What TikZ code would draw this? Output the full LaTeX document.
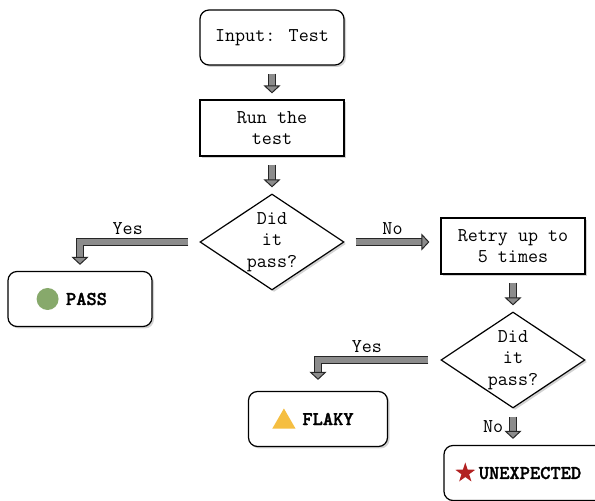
\documentclass[tikz,border=0pt]{standalone}
\usepackage{fontspec}
\newfontface\endfont{lmmonolt10-bold.otf}[FakeBold=1.6]
\usetikzlibrary{positioning,shapes.geometric,shadows,arrows.meta}

\definecolor{passgreen}{HTML}{87A96B}
\definecolor{flakyyellow}{HTML}{F5BE41}
\definecolor{unexpred}{HTML}{B22222}
\definecolor{arrowgray}{HTML}{8C8C8C}

\tikzset{
  flowtext/.style={font=\ttfamily\fontsize{19.5}{21.5}\selectfont, align=center},
  boxshadow/.style={drop shadow={shadow xshift=2pt, shadow yshift=-2pt, opacity=0.35}},
  startbox/.style={flowtext, draw, line width=1.2pt, rounded corners=9pt,
    minimum width=144pt, minimum height=55pt, fill=white, boxshadow},
  procbox/.style={flowtext, draw, line width=1.2pt,
    minimum width=144pt, minimum height=56pt, fill=white, boxshadow},
  decision/.style={flowtext, draw, line width=1.2pt, diamond, aspect=1.5, inner sep=0pt,
    minimum width=144pt, minimum height=96pt, fill=white, boxshadow},
  endbox/.style={startbox, font=\endfont\fontsize{19.5}{21.5}\selectfont},
  fatarrow/.style={draw=black!85, line width=1pt, double=arrowgray, double distance=6pt,
    shorten <=8pt, shorten >=6pt,
    -{Triangle[length=8pt, width=17pt, line width=1pt, fill=arrowgray]}},
  edgetext/.style={flowtext}
}

\begin{document}
\begin{tikzpicture}[on grid, x=1pt, y=1pt]
  \useasboundingbox (0,0) rectangle (595,501);

  % main line
  \node[startbox] (input) at (272,463.5) {Input: Test};
  \node[procbox, below=90.5pt of input] (run) {Run the\\test};
  \node[decision, below=114pt of run] (did1) {Did\\it\\pass?};
  \node[endbox, below left=57pt and 192pt of did1] (pass) {\hspace*{13pt}PASS};
  \node[procbox, below right=4pt and 241pt of did1] (retry) {Retry up to\\5 times};
  \node[decision, below=114pt of retry] (did2) {Did\\it\\pass?};
  \node[endbox, minimum width=139pt, below left=59pt and 195pt of did2] (flaky) {\hspace*{20pt}FLAKY};
  \node[endbox, minimum width=164pt, below=113pt of did2, xshift=13pt] (unexp) {\hspace*{8pt}UNEXPECTED};

  % marks
  \node[circle, fill=passgreen, minimum size=22pt, inner sep=0pt, right=29pt of pass.west] (passmark) {};
  \node[regular polygon, regular polygon sides=3, fill=flakyyellow, minimum size=27pt, inner sep=0pt,
    right=28pt of flaky.west, yshift=-3pt] (flakymark) {};
  \node[star, star points=5, star point ratio=2.6, fill=unexpred, minimum size=21pt, inner sep=0pt,
    right=16pt of unexp.west] (unexpmark) {};

  % arrows
  \draw[fatarrow] (input) -- (run);
  \draw[fatarrow] (run) -- (did1);
  \draw[fatarrow, shorten <=11pt, shorten >=11pt] (did1.east) -- node[edgetext, above=4pt] {No} (did1.east -| retry.west);
  \draw[fatarrow, shorten <=11pt] (did1.west) -| node[edgetext, pos=0.3, above=4pt] {Yes} (pass.north);
  \draw[fatarrow] (retry) -- (did2);
  \draw[fatarrow, shorten <=12pt, shorten >=11pt] (did2.west) -| node[edgetext, pos=0.3, above=4pt] {Yes} (flaky.north);
  \draw[fatarrow] (did2.south) -- node[edgetext, left=6pt] {No} (did2.south |- unexp.north);
\end{tikzpicture}
\end{document}
